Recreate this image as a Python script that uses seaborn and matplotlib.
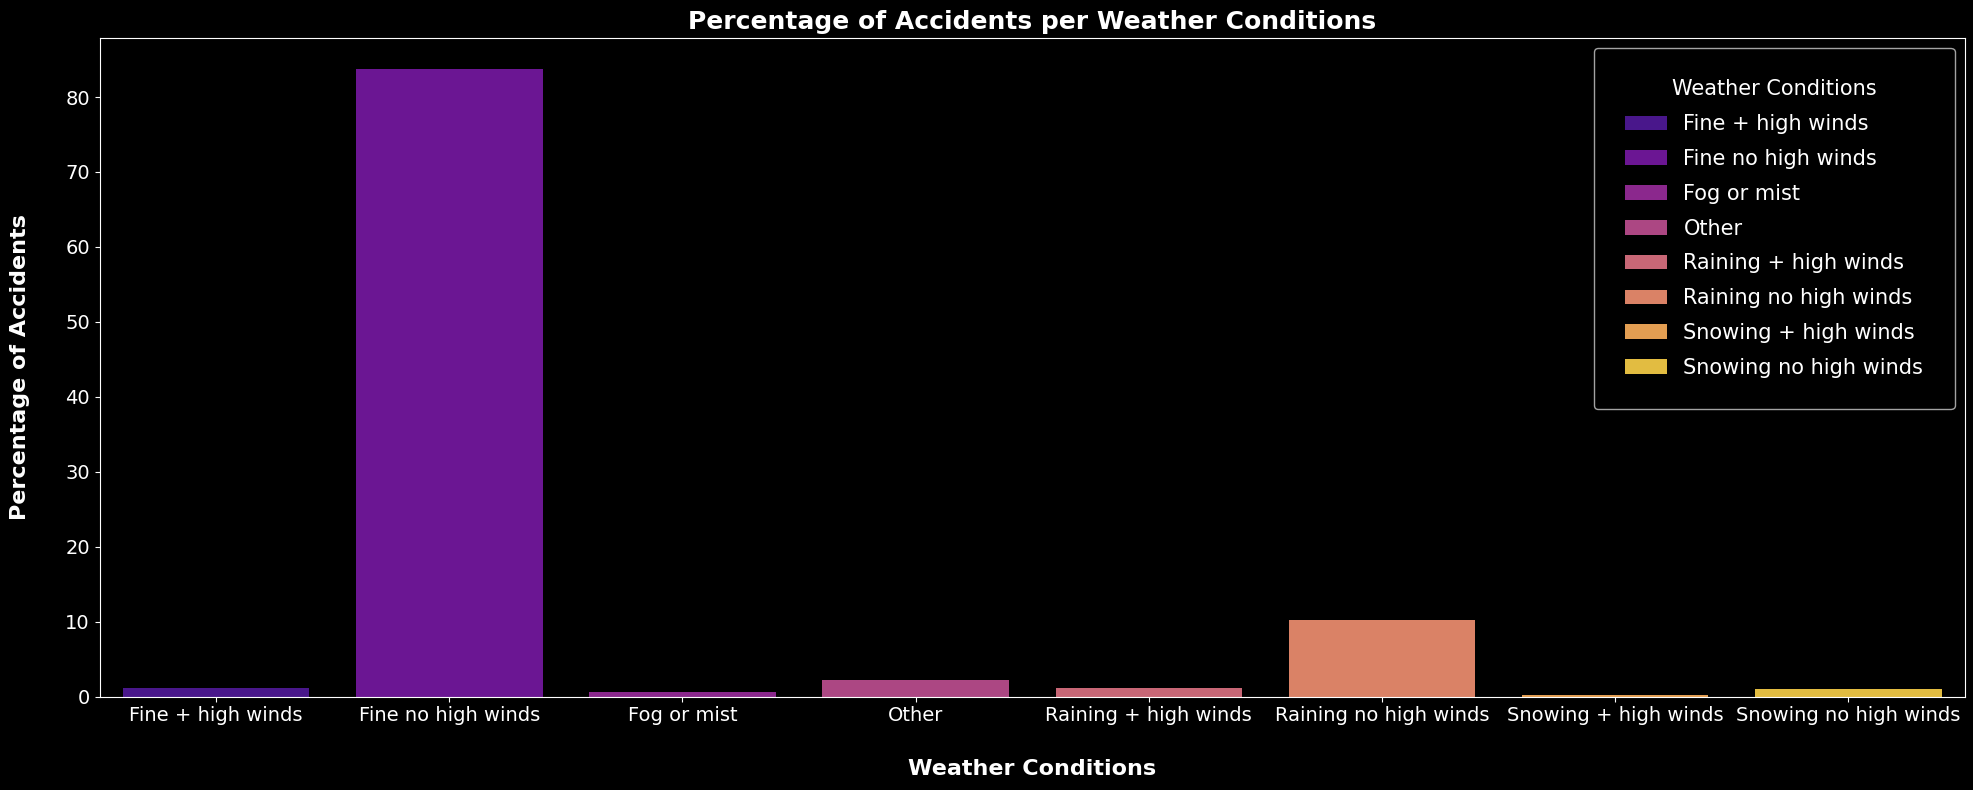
import pandas as pd
import matplotlib.pyplot as plt
import seaborn as sns

# Percentage of accidents per weather condition
conditions = ['Fine + high winds', 'Fine no high winds', 'Fog or mist', 'Other',
              'Raining + high winds', 'Raining no high winds',
              'Snowing + high winds', 'Snowing no high winds']
percentages = [1.16, 83.73, 0.62, 2.22, 1.16, 10.27, 0.22, 1.02]

df = pd.DataFrame({'Weather_Conditions': conditions, 'Percentage': percentages})

plt.style.use('dark_background')
plt.rcParams['font.family'] = ['DejaVu Sans']

fig = plt.figure(figsize=(19.74, 7.9), dpi=100)
ax = fig.add_axes([99.5 / 1974, 93.3 / 790, 1865.5 / 1974, 659 / 790])

sns.barplot(data=df, x='Weather_Conditions', y='Percentage', hue='Weather_Conditions',
            palette='plasma', legend=True, ax=ax)

ax.set_title('Percentage of Accidents per Weather Conditions', fontsize=18, fontweight='bold')
ax.set_xlabel('Weather Conditions', fontsize=16, fontweight='bold', labelpad=24)
ax.set_ylabel('Percentage of Accidents', fontsize=16, fontweight='bold', labelpad=25)
ax.tick_params(axis='both', which='major', labelsize=14)

leg = ax.legend(title='Weather Conditions', fontsize=15, title_fontsize=15,
                loc='upper right', borderpad=1.5, labelspacing=0.71)

fig.savefig('out.png', dpi=100)
